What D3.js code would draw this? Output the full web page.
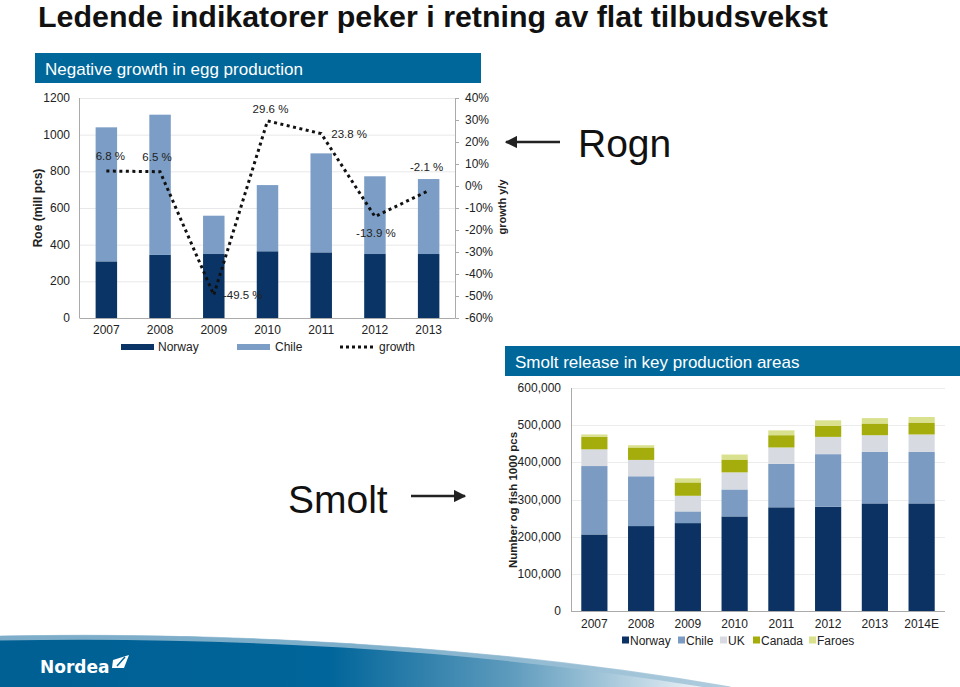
<!DOCTYPE html>
<html lang="no">
<head>
<meta charset="utf-8">
<title>Ledende indikatorer</title>
<style>
  body { margin: 0; background: #fff; }
  svg { display: block; font-family: "Liberation Sans", Arial, sans-serif; }
</style>
</head>
<body>
<script src="https://cdn.jsdelivr.net/npm/d3@7"></script>
<script>
// Roe (egg) production, mill pcs
var roeYears = ["2007", "2008", "2009", "2010", "2011", "2012", "2013"];
var roeNorway = [309, 344, 349, 364, 358, 349, 349];
var roeChile = [731, 765, 209, 361, 540, 424, 409];
var roeGrowth = [6.8, 6.5, -49.5, 29.6, 23.8, -13.9, -2.1];
var roeLeftTicks = [0, 200, 400, 600, 800, 1000, 1200];
var roeRightTicks = [-60, -50, -40, -30, -20, -10, 0, 10, 20, 30, 40];

// Smolt release, 1000 pcs
var smoltYears = ["2007", "2008", "2009", "2010", "2011", "2012", "2013", "2014E"];
var smoltNorway = [206000, 228500, 236500, 254500, 279000, 280500, 289500, 289500];
var smoltChile = [184000, 134000, 31500, 72500, 117000, 141500, 138500, 138500];
var smoltUK = [45000, 44000, 42000, 46000, 44000, 46500, 45000, 47000];
var smoltCanada = [34000, 33500, 36000, 34500, 33000, 29500, 31500, 32000];
var smoltFaroes = [6000, 6000, 11000, 13500, 13000, 15000, 14500, 15000];
var smoltTicks = [0, 100000, 200000, 300000, 400000, 500000, 600000];

var w = 960, h = 687;
var svg = d3.select("body").append("svg").attr("width", w).attr("height", h);
var defs = svg.append("defs");

// Title
svg.append("text")
   .attr("x", 38).attr("y", 27)
   .attr("font-family", "'Liberation Sans Narrow', 'Arial Narrow', 'Liberation Sans', sans-serif")
   .attr("font-weight", "bold").attr("font-size", 30)
   .attr("textLength", 790).attr("lengthAdjust", "spacingAndGlyphs")
   .attr("fill", "#111")
   .text("Ledende indikatorer peker i retning av flat tilbudsvekst");

//---------- Left chart: roe ----------
svg.append("rect").attr("x", 35).attr("y", 53).attr("width", 446).attr("height", 30).attr("fill", "#00679a");
svg.append("text").attr("x", 45).attr("y", 75).attr("font-size", 17).attr("fill", "#fff")
   .text("Negative growth in egg production");

var rx = d3.scaleBand().domain(roeYears).range([79.5, 455.5]).paddingInner(0.6).paddingOuter(0.3);
var ryL = d3.scaleLinear().domain([0, 1200]).range([318, 98]);
var ryR = d3.scaleLinear().domain([-60, 40]).range([318, 98]);

var g1 = svg.append("g");
g1.selectAll("line.grid").data(roeLeftTicks.slice(1)).enter().append("line")
  .attr("x1", 79.5).attr("x2", 455.5)
  .attr("y1", function(d) { return ryL(d) + 0.5; }).attr("y2", function(d) { return ryL(d) + 0.5; })
  .attr("stroke", "#e8e8e8");

var roeRows = roeYears.map(function(y, i) { return { year: y, Norway: roeNorway[i], Chile: roeChile[i] }; });
var roeStack = d3.stack().keys(["Norway", "Chile"])(roeRows);
var roeColors = { Norway: "#0b3466", Chile: "#7c9ec6" };
g1.selectAll("g.layer").data(roeStack).enter().append("g")
  .attr("fill", function(d) { return roeColors[d.key]; })
  .selectAll("rect").data(function(d) { return d; }).enter().append("rect")
  .attr("x", function(d) { return rx(d.data.year); })
  .attr("width", rx.bandwidth())
  .attr("y", function(d) { return ryL(d[1]); })
  .attr("height", function(d) { return ryL(d[0]) - ryL(d[1]); });

// axes lines
g1.append("line").attr("x1", 79.5).attr("x2", 79.5).attr("y1", 98).attr("y2", 318).attr("stroke", "#aaa");
g1.append("line").attr("x1", 79.5).attr("x2", 455.5).attr("y1", 318.5).attr("y2", 318.5).attr("stroke", "#aaa");
g1.append("line").attr("x1", 455.5).attr("x2", 455.5).attr("y1", 98).attr("y2", 318).attr("stroke", "#aaa");
g1.selectAll("line.rt").data(roeRightTicks).enter().append("line")
  .attr("x1", 455.5).attr("x2", 459)
  .attr("y1", function(d) { return ryR(d) + 0.5; }).attr("y2", function(d) { return ryR(d) + 0.5; })
  .attr("stroke", "#aaa");

g1.selectAll("text.lt").data(roeLeftTicks).enter().append("text")
  .attr("x", 70).attr("y", function(d) { return ryL(d) + 4; })
  .attr("text-anchor", "end").attr("font-size", 12).attr("fill", "#222")
  .text(function(d) { return d; });
g1.selectAll("text.rtl").data(roeRightTicks).enter().append("text")
  .attr("x", 465).attr("y", function(d) { return ryR(d) + 4; })
  .attr("font-size", 12).attr("fill", "#222")
  .text(function(d) { return d + "%"; });
g1.selectAll("text.yr").data(roeYears).enter().append("text")
  .attr("x", function(d) { return rx(d) + rx.bandwidth() / 2; }).attr("y", 334)
  .attr("text-anchor", "middle").attr("font-size", 12).attr("fill", "#222")
  .text(function(d) { return d; });

g1.append("text").attr("transform", "translate(42,208) rotate(-90)")
  .attr("text-anchor", "middle").attr("font-size", 12).attr("font-weight", "bold").attr("fill", "#222")
  .text("Roe (mill pcs)");
g1.append("text").attr("transform", "translate(506,207) rotate(-90)")
  .attr("text-anchor", "middle").attr("font-size", 11).attr("font-weight", "bold").attr("fill", "#222")
  .text("growth y/y");

// growth line
var line = d3.line()
  .x(function(d, i) { return rx(roeYears[i]) + rx.bandwidth() / 2; })
  .y(function(d) { return ryR(d); });
g1.append("path").datum(roeGrowth).attr("d", line)
  .attr("fill", "none").attr("stroke", "#111").attr("stroke-width", 3)
  .attr("stroke-dasharray", "3,3.5");

var labelOffsets = [[4, -11], [-3, -11], [29, 4], [3, -8], [28, 4], [1, 20], [-2, -20]];
g1.selectAll("text.gl").data(roeGrowth).enter().append("text")
  .attr("x", function(d, i) { return rx(roeYears[i]) + rx.bandwidth() / 2 + labelOffsets[i][0]; })
  .attr("y", function(d, i) { return ryR(d) + labelOffsets[i][1]; })
  .attr("text-anchor", "middle").attr("font-size", 11.5).attr("fill", "#222")
  .text(function(d) { return d.toFixed(1) + " %"; });

// legend
var lg = g1.append("g").attr("font-size", 12).attr("fill", "#222");
lg.append("rect").attr("x", 121).attr("y", 344).attr("width", 33).attr("height", 6).attr("fill", roeColors.Norway);
lg.append("text").attr("x", 158).attr("y", 351).text("Norway");
lg.append("rect").attr("x", 237).attr("y", 344).attr("width", 33).attr("height", 6).attr("fill", roeColors.Chile);
lg.append("text").attr("x", 275).attr("y", 351).text("Chile");
lg.append("line").attr("x1", 340).attr("x2", 373).attr("y1", 347).attr("y2", 347)
  .attr("stroke", "#111").attr("stroke-width", 3).attr("stroke-dasharray", "3,3");
lg.append("text").attr("x", 379).attr("y", 351).text("growth");

//---------- Annotations ----------
defs.append("marker").attr("id", "ah").attr("viewBox", "0 0 10 10").attr("refX", 9).attr("refY", 5)
  .attr("markerWidth", 5).attr("markerHeight", 5).attr("orient", "auto-start-reverse")
  .append("path").attr("d", "M0,0 L10,5 L0,10 Z").attr("fill", "#222");

svg.append("line").attr("x1", 560).attr("x2", 506).attr("y1", 142).attr("y2", 142)
  .attr("stroke", "#222").attr("stroke-width", 2.5).attr("marker-end", "url(#ah)");
svg.append("text").attr("x", 578).attr("y", 157).attr("font-size", 39).attr("fill", "#111").text("Rogn");

svg.append("text").attr("x", 288).attr("y", 513).attr("font-size", 39).attr("fill", "#111").text("Smolt");
svg.append("line").attr("x1", 411).attr("x2", 465).attr("y1", 496).attr("y2", 496)
  .attr("stroke", "#222").attr("stroke-width", 2.5).attr("marker-end", "url(#ah)");

//---------- Right chart: smolt ----------
svg.append("rect").attr("x", 505).attr("y", 346).attr("width", 455).attr("height", 30).attr("fill", "#00679a");
svg.append("text").attr("x", 515).attr("y", 368).attr("font-size", 17).attr("fill", "#fff")
   .text("Smolt release in key production areas");

var sx = d3.scaleBand().domain(smoltYears).range([571, 945]).paddingInner(0.44).paddingOuter(0.22);
var sy = d3.scaleLinear().domain([0, 600000]).range([611, 388]);
var fmt = d3.format(",");

var g2 = svg.append("g");
g2.selectAll("line.grid").data(smoltTicks.slice(1)).enter().append("line")
  .attr("x1", 571).attr("x2", 945)
  .attr("y1", function(d) { return Math.round(sy(d)) + 0.5; }).attr("y2", function(d) { return Math.round(sy(d)) + 0.5; })
  .attr("stroke", "#ececec");

var smoltKeys = ["Norway", "Chile", "UK", "Canada", "Faroes"];
var smoltColors = { Norway: "#0b3263", Chile: "#7b9bc2", UK: "#d7dbe1", Canada: "#a4ad0c", Faroes: "#d9e08e" };
var smoltRows = smoltYears.map(function(y, i) {
  return { year: y, Norway: smoltNorway[i], Chile: smoltChile[i], UK: smoltUK[i], Canada: smoltCanada[i], Faroes: smoltFaroes[i] };
});
var smoltStack = d3.stack().keys(smoltKeys)(smoltRows);
g2.selectAll("g.layer").data(smoltStack).enter().append("g")
  .attr("fill", function(d) { return smoltColors[d.key]; })
  .selectAll("rect").data(function(d) { return d; }).enter().append("rect")
  .attr("x", function(d) { return sx(d.data.year); })
  .attr("width", sx.bandwidth())
  .attr("y", function(d) { return sy(d[1]); })
  .attr("height", function(d) { return sy(d[0]) - sy(d[1]); });

g2.append("line").attr("x1", 571.5).attr("x2", 571.5).attr("y1", 388).attr("y2", 611).attr("stroke", "#aaa");
g2.append("line").attr("x1", 571).attr("x2", 945).attr("y1", 611.5).attr("y2", 611.5).attr("stroke", "#aaa");

g2.selectAll("text.lt").data(smoltTicks).enter().append("text")
  .attr("x", 561).attr("y", function(d) { return sy(d) + 4; })
  .attr("text-anchor", "end").attr("font-size", 12).attr("fill", "#222")
  .text(function(d) { return fmt(d); });
g2.selectAll("text.yr").data(smoltYears).enter().append("text")
  .attr("x", function(d) { return sx(d) + sx.bandwidth() / 2; }).attr("y", 628)
  .attr("text-anchor", "middle").attr("font-size", 12).attr("fill", "#222")
  .text(function(d) { return d; });
g2.append("text").attr("transform", "translate(517,500) rotate(-90)")
  .attr("text-anchor", "middle").attr("font-size", 11.5).attr("font-weight", "bold").attr("fill", "#222")
  .text("Number og fish 1000 pcs");

var legendX = [622, 678, 720, 753, 809];
var lg2 = g2.selectAll("g.leg").data(smoltKeys).enter().append("g")
  .attr("transform", function(d, i) { return "translate(" + legendX[i] + ",640)"; });
lg2.append("rect").attr("x", 0).attr("y", -3.5).attr("width", 7).attr("height", 7)
  .attr("fill", function(d) { return smoltColors[d]; });
lg2.append("text").attr("x", 8).attr("y", 4.5).attr("font-size", 12).attr("fill", "#222")
  .text(function(d) { return d; });

//---------- Footer band ----------
var grad = defs.append("linearGradient").attr("id", "band").attr("x1", 0).attr("x2", 1).attr("y1", 0).attr("y2", 0);
grad.append("stop").attr("offset", "0").attr("stop-color", "#005f93");
grad.append("stop").attr("offset", "0.45").attr("stop-color", "#00659a");
grad.append("stop").attr("offset", "0.7").attr("stop-color", "#5e9bbd");
grad.append("stop").attr("offset", "1").attr("stop-color", "#ffffff");
var band = "M0,636 C200,632 470,642 730,687 L0,687 Z";
svg.append("path").attr("d", band).attr("fill", "url(#band)");
svg.append("path").attr("d", "M0,638 C200,634 470,644 730,689")
  .attr("fill", "none").attr("stroke", "#9cc0d6").attr("stroke-width", 5).attr("opacity", 0.8);

svg.append("text").attr("x", 40).attr("y", 673)
  .attr("font-family", "'DejaVu Sans', sans-serif").attr("font-weight", "bold")
  .attr("font-size", 17).attr("fill", "#fff").text("Nordea");
svg.append("path").attr("d", "M113,660 L129,655 L124,668 L112,668 Z").attr("fill", "#fff");
svg.append("path").attr("d", "M117,666 L125,657").attr("stroke", "#00659a").attr("stroke-width", 1.5);
</script>
</body>
</html>
